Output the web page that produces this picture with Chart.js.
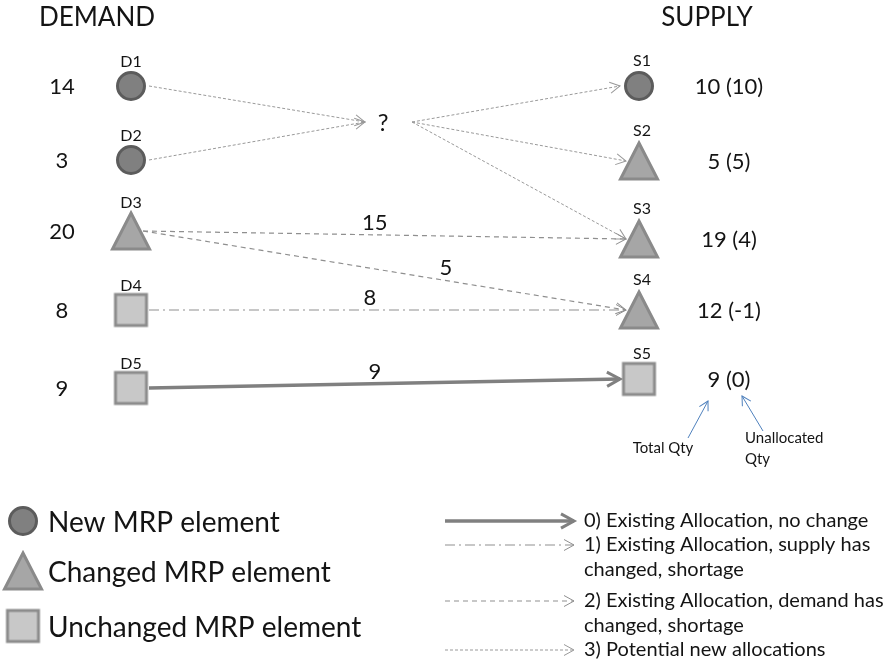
<!DOCTYPE html>
<html>
<head>
<meta charset="utf-8">
<style>
  html, body { margin: 0; padding: 0; background: #fff; }
  #wrap { width: 891px; height: 664px; }
</style>
</head>
<body>
<div id="wrap"><canvas id="myChart" width="891" height="664"></canvas></div>
<script src="https://cdn.jsdelivr.net/npm/chart.js@4.4.1/dist/chart.umd.min.js"></script>
<script>
// ---- data ----
const demandIds = ['D1', 'D2', 'D3', 'D4', 'D5'];
const demandQty = [14, 3, 20, 8, 9];
const demandState = [0, 0, 1, 2, 2]; // 0 new, 1 changed, 2 unchanged
const supplyIds = ['S1', 'S2', 'S3', 'S4', 'S5'];
const supplyQty = [10, 5, 19, 12, 9];
const supplyUnalloc = [10, 5, 4, -1, 0];
const supplyState = [0, 1, 1, 1, 2];

// existing allocations (index into demand / supply)
const allocFrom = [2, 2, 3, 4];
const allocTo = [2, 3, 3, 4];
const allocQty = [15, 5, 8, 9];
const allocType = [2, 2, 1, 0];

// potential new allocations, through the "?"
const openDemand = [0, 1];
const openSupply = [0, 1, 2];

const stateNames = ['New MRP element', 'Changed MRP element', 'Unchanged MRP element'];
const typeNames = [
  ['0) Existing Allocation, no change'],
  ['1) Existing Allocation, supply has', 'changed, shortage'],
  ['2) Existing Allocation, demand has', 'changed, shortage'],
  ['3) Potential new allocations']
];

// ---- layout (diagram units) ----
const W = 891, H = 664;
const demandX = 131, supplyX = 639;
const hubX = 383, hubY = 122, hubInX = 365, hubOutX = 412;
const demandY = [86, 160, 231, 310, 388];
const supplyY = [86, 161, 239, 310, 379];
const qtyX = 62, supplyQtyX = 729;
const labelT = [0.48, 0.62, 0.47, 0.48];
const nodeHalf = [18, 12, 18];
const legendIconX = 23, legendIconY = [521, 571, 626], legendTextX = 48;
const legendLineX = [445, 574], legendLineY = [521, 545, 601, 650];
const legendTextY = [[521], [545, 570], [601, 626], [650]], legendLabelX = 584;

const FONT = "Lato, 'Open Sans', sans-serif";
const TEXT = '#141414';

const lineStyle = [
  { w: 3.5, dash: [], color: '#808080', head: 13 },
  { w: 1.2, dash: [10, 4, 2, 4], color: '#8f8f8f', head: 10 },
  { w: 1.2, dash: [5, 4], color: '#8f8f8f', head: 10 },
  { w: 1, dash: [3, 2], color: '#999999', head: 10 }
];

// marker images for the three element states
function makeMarker(state) {
  const c = document.createElement('canvas');
  const g = c.getContext('2d');
  if (state === 0) {
    c.width = 34; c.height = 34;
    g.lineWidth = 3;
    g.beginPath();
    g.arc(17, 17, 13.5, 0, Math.PI * 2);
    g.fillStyle = '#808080';
    g.strokeStyle = '#5c5c5c';
    g.fill(); g.stroke();
  } else if (state === 1) {
    c.width = 44; c.height = 44;
    g.lineWidth = 3;
    g.beginPath();
    g.moveTo(22, 4); g.lineTo(40.5, 40); g.lineTo(3.5, 40); g.closePath();
    g.fillStyle = '#a6a6a6';
    g.strokeStyle = '#8a8a8a';
    g.lineJoin = 'miter';
    g.fill(); g.stroke();
  } else {
    c.width = 37; c.height = 37;
    g.lineWidth = 3;
    g.fillStyle = '#c8c8c8';
    g.strokeStyle = '#8c8c8c';
    g.fillRect(3, 3, 31, 31);
    g.strokeRect(3, 3, 31, 31);
  }
  return c;
}
const markers = [makeMarker(0), makeMarker(1), makeMarker(2)];

// ---- build datasets ----
const datasets = [];

function addEdge(x0, y0, x1, y1, type) {
  const s = lineStyle[type];
  datasets.push({
    type: 'line',
    data: [{ x: x0, y: y0 }, { x: x1, y: y1 }],
    borderColor: s.color,
    borderWidth: s.w,
    borderDash: s.dash,
    pointRadius: 0,
    fill: false,
    tension: 0,
    order: 2,
    arrow: { size: s.head, width: type === 0 ? 3 : 1, color: s.color }
  });
}

openDemand.forEach(d => {
  addEdge(demandX + nodeHalf[demandState[d]], demandY[d], hubInX, hubY, 3);
});
openSupply.forEach(s => {
  addEdge(hubOutX, hubY, supplyX - nodeHalf[supplyState[s]] - 1, supplyY[s], 3);
});
allocFrom.forEach((d, i) => {
  const s = allocTo[i];
  addEdge(demandX + nodeHalf[demandState[d]], demandY[d],
          supplyX - nodeHalf[supplyState[s]] - 1, supplyY[s], allocType[i]);
});

// legend line samples
legendLineY.forEach((y, t) => addEdge(legendLineX[0], y, legendLineX[1], y, t));

// blue callouts for the quantity format
const callouts = [
  { from: [688, 438], to: [708, 401] },
  { from: [763, 431], to: [742, 396] }
];
callouts.forEach(c => {
  datasets.push({
    type: 'line',
    data: [{ x: c.from[0], y: c.from[1] }, { x: c.to[0], y: c.to[1] }],
    borderColor: '#4f81bd',
    borderWidth: 1,
    pointRadius: 0,
    fill: false,
    order: 2,
    arrow: { size: 9, width: 1, color: '#4f81bd' }
  });
});

// nodes + legend icons
const nodePts = [], nodeStyles = [];
demandIds.forEach((id, i) => { nodePts.push({ x: demandX, y: demandY[i] }); nodeStyles.push(markers[demandState[i]]); });
supplyIds.forEach((id, i) => { nodePts.push({ x: supplyX, y: supplyY[i] }); nodeStyles.push(markers[supplyState[i]]); });
stateNames.forEach((n, i) => { nodePts.push({ x: legendIconX, y: legendIconY[i] }); nodeStyles.push(markers[i]); });
datasets.push({
  type: 'scatter',
  data: nodePts,
  pointStyle: nodeStyles,
  pointRadius: 10,
  order: 1
});

// ---- plugins ----
const arrowHeads = {
  id: 'arrowHeads',
  afterDatasetsDraw(chart) {
    const ctx = chart.ctx;
    chart.data.datasets.forEach((ds, i) => {
      if (!ds.arrow) return;
      const pts = chart.getDatasetMeta(i).data;
      const a = pts[pts.length - 2], b = pts[pts.length - 1];
      const ang = Math.atan2(b.y - a.y, b.x - a.x);
      const L = ds.arrow.size, hw = L * 0.55;
      ctx.save();
      ctx.strokeStyle = ds.arrow.color;
      ctx.lineWidth = ds.arrow.width;
      ctx.lineJoin = 'miter';
      ctx.setLineDash([]);
      ctx.translate(b.x, b.y);
      ctx.rotate(ang);
      ctx.beginPath();
      ctx.moveTo(-L, -hw);
      ctx.lineTo(0, 0);
      ctx.lineTo(-L, hw);
      ctx.stroke();
      ctx.restore();
    });
  }
};

const diagramText = {
  id: 'diagramText',
  afterDatasetsDraw(chart) {
    const ctx = chart.ctx;
    const sx = chart.scales.x, sy = chart.scales.y;
    const put = (txt, x, y, size, align) => {
      ctx.font = size + 'px ' + FONT;
      ctx.textAlign = align || 'center';
      ctx.fillText(txt, sx.getPixelForValue(x), sy.getPixelForValue(y));
    };
    ctx.save();
    ctx.fillStyle = TEXT;
    ctx.textBaseline = 'middle';

    put('DEMAND', 97, 18, 26);
    put('SUPPLY', 707, 18, 26);

    demandIds.forEach((id, i) => {
      put(String(demandQty[i]), qtyX, demandY[i] + 1, 22);
      const top = demandState[i] === 1 ? 28 : 24;
      put(id, demandX, demandY[i] - top, 16);
    });
    supplyIds.forEach((id, i) => {
      put(supplyQty[i] + ' (' + supplyUnalloc[i] + ')', supplyQtyX, supplyY[i] + 1, 22);
      const top = supplyState[i] === 1 ? 30 : 25;
      put(id, supplyX + 3, supplyY[i] - top, 16);
    });

    put('?', hubX, hubY + 1, 24);

    allocFrom.forEach((d, i) => {
      const s = allocTo[i];
      const x0 = demandX, x1 = supplyX, y0 = demandY[d], y1 = supplyY[s];
      const t = labelT[i];
      put(String(allocQty[i]), x0 + (x1 - x0) * t, y0 + (y1 - y0) * t - 12, 22);
    });

    put('Total Qty', 663, 448, 15);
    put('Unallocated', 745, 438, 15, 'left');
    put('Qty', 745, 459, 15, 'left');

    stateNames.forEach((n, i) => put(n, legendTextX, legendIconY[i] + 2, 28, 'left'));
    typeNames.forEach((lines, t) => {
      lines.forEach((ln, k) => put(ln, legendLabelX, legendTextY[t][k], 20, 'left'));
    });
    ctx.restore();
  }
};

new Chart(document.getElementById('myChart').getContext('2d'), {
  data: { datasets: datasets },
  options: {
    responsive: false,
    animation: false,
    events: [],
    devicePixelRatio: 1,
    layout: { padding: 0, autoPadding: false },
    plugins: { legend: { display: false }, tooltip: { enabled: false } },
    scales: {
      x: { type: 'linear', min: 0, max: W, display: false },
      y: { type: 'linear', min: 0, max: H, reverse: true, display: false }
    }
  },
  plugins: [arrowHeads, diagramText]
});
</script>
</body>
</html>
